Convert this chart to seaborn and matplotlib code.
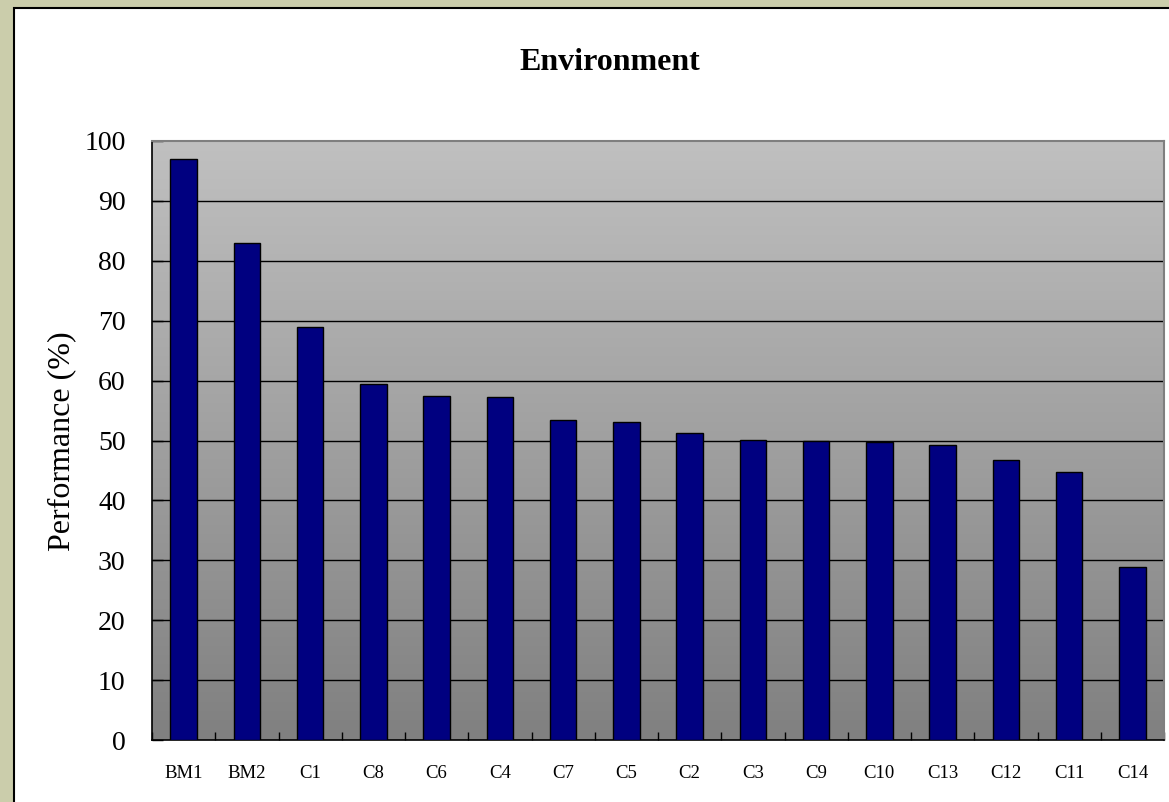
import numpy as np
import pandas as pd
import matplotlib
matplotlib.use("Agg")
import matplotlib.pyplot as plt
import seaborn as sns
from matplotlib.patches import Rectangle
from matplotlib.colors import LinearSegmentedColormap

categories = ["BM1", "BM2", "C1", "C8", "C6", "C4", "C7", "C5", "C2", "C3",
              "C9", "C10", "C13", "C12", "C11", "C14"]
values = [97.0, 83.0, 69.0, 59.5, 57.4, 57.2, 53.4, 53.1, 51.3, 50.1,
          50.0, 49.8, 49.2, 46.7, 44.8, 28.8]
y_ticks = [0, 10, 20, 30, 40, 50, 60, 70, 80, 90, 100]

sns.set_theme(style="white")
plt.rcParams['font.family'] = ['Liberation Serif', 'DejaVu Serif']
plt.rcParams['text.color'] = 'black'
plt.rcParams['xtick.color'] = 'black'
plt.rcParams['ytick.color'] = 'black'

W, H = 1169, 802
fig = plt.figure(figsize=(W / 100, H / 100), dpi=100)
fig.patch.set_facecolor("#cbcdab")

# white chart panel
panel = Rectangle((14 / W, -0.05), 1.2, 1 - 8 / H + 0.05, transform=fig.transFigure,
                  facecolor="white", edgecolor="black", linewidth=1.5, zorder=0)
fig.add_artist(panel)

ax = fig.add_axes([152 / W, 1 - 740 / H, (1164 - 152) / W, (740 - 141) / H])
ax.set_facecolor("none")

df = pd.DataFrame({"cat": categories, "val": values})

# gradient background
cmap = LinearSegmentedColormap.from_list("g", ["#808080", "#c0c0c0"])
grad = np.linspace(0, 1, 256).reshape(-1, 1)
ax.imshow(grad, cmap=cmap, aspect="auto", origin="lower",
          extent=[0, 1, 0, 1], transform=ax.transAxes, zorder=0)

sns.barplot(data=df, x="cat", y="val", color="#000080", edgecolor="black",
            linewidth=1.0, width=0.42, saturation=1, ax=ax, zorder=3)

ax.set_xlim(-0.5, len(categories) - 0.5)
ax.set_ylim(0, 100)
ax.set_yticks(y_ticks)
ax.set_yticklabels([str(t) for t in y_ticks], fontsize=20)
for t in y_ticks[1:-1]:
    ax.axhline(t, color="black", linewidth=1.0, zorder=2)

ax.tick_params(axis="y", direction="in", length=8, width=1, color="black",
               pad=19, left=True, labelsize=20, labelcolor="black")
ax.tick_params(axis="x", which="major", length=0, pad=18, labelsize=13.5,
               labelcolor="black")
ax.set_xticks(np.arange(-0.5, len(categories), 1.0), minor=True)
ax.tick_params(axis="x", which="minor", direction="in", length=6, width=1,
               color="black", bottom=True)
ax.set_xlabel("")
ax.set_ylabel("")

for s in ["left", "bottom"]:
    ax.spines[s].set_color("black")
    ax.spines[s].set_linewidth(1.2)
for s in ["top", "right"]:
    ax.spines[s].set_color("#7f7f7f")
    ax.spines[s].set_linewidth(1.5)
    ax.spines[s].set_visible(True)

fig.text(610 / W, 1 - 62 / H, "Environment", ha="center", va="center",
         fontsize=23, fontweight="bold", color="black")
fig.text(62 / W, 1 - 441 / H, "Performance (%)", ha="center", va="center",
         rotation=90, fontsize=23, color="black")

fig.savefig("out.png", dpi=100)
